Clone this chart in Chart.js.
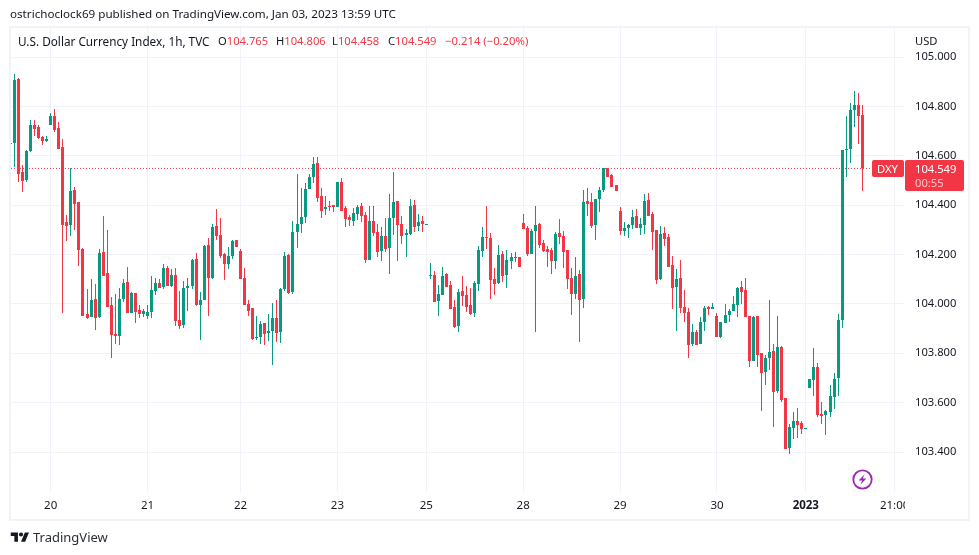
<!DOCTYPE html>
<html><head><meta charset="utf-8">
<script src="https://cdn.jsdelivr.net/npm/chart.js@4"></script>
<style>
html,body{margin:0;padding:0;background:#fff;width:979px;height:555px;overflow:hidden}
#c{position:absolute;left:0;top:0}
.t{position:absolute;white-space:nowrap;font:12px "Noto Sans",sans-serif;color:#131722;line-height:16px}
.n{font-size:11.2px}
.r{color:#f23645}
#frame{position:absolute;left:9px;top:26px;width:957px;height:491px;border:2px solid #f0f3fa}
.badge{position:absolute;background:#f23645;border-radius:2px}
</style></head><body>
<canvas id="c" width="979" height="555"></canvas>
<div id="frame"></div>
<div class="t" style="left:10px;top:6px;font-size:11.65px">ostrichoclock69 published on TradingView.com, Jan 03, 2023 13:59 UTC</div>
<div class="t" style="left:18px;top:33px;font-size:11.75px">U.S. Dollar Currency Index, 1h, TVC</div>
<div class="t n" style="left:218px;top:33px">O<span class="r">104.765</span></div>
<div class="t n" style="left:276px;top:33px">H<span class="r">104.806</span></div>
<div class="t n" style="left:332px;top:33px">L<span class="r">104.458</span></div>
<div class="t n" style="left:388px;top:33px">C<span class="r">104.549</span></div>
<div class="t r" style="left:445px;top:33px;font-size:11.3px">−0.214 (−0.20%)</div>
<div class="t n" style="left:915px;top:33px">USD</div>
<div class="badge" style="left:872px;top:160px;width:32px;height:17px"></div>
<div class="t n" style="left:877px;top:161px;color:#fff">DXY</div>
<div class="badge" style="left:905px;top:160px;width:59px;height:31px"></div>
<div class="t n" style="left:915px;top:161px;color:#fff">104.549</div>
<div class="t n" style="left:915px;top:175px;color:#fbc4ca">00:55</div>
<svg style="position:absolute;left:852px;top:469px" width="21" height="21" viewBox="0 0 21 21"><circle cx="10.5" cy="10.5" r="9.2" fill="none" stroke="#9c27b0" stroke-width="1.8"/><path d="M12.6 5.2 L6.6 11.4 H10.2 L8.4 15.8 L14.4 9.6 H10.8 Z" fill="#9c27b0"/></svg>
<svg style="position:absolute;left:10px;top:532px" width="20" height="10" viewBox="0 3 36 19.5"><path d="M14 22H7V11H0V4h14v18zM28 22h-8l7.5-18h8L28 22z" fill="#131722"/><circle cx="20" cy="8" r="4" fill="#131722"/></svg>
<div class="t" style="left:33px;top:529px;font-size:13px;color:#2a2e39">TradingView</div>
<script>
const opens=[104.651,104.653,104.912,104.535,104.503,104.620,104.726,104.718,104.677,104.661,
104.726,104.762,104.714,104.637,104.333,104.321,104.462,104.414,104.224,103.960,
103.948,104.021,103.948,104.211,104.126,103.997,103.879,103.871,104.021,104.090,
103.964,104.045,103.976,103.960,103.952,103.968,104.053,104.083,104.067,104.144,
104.071,104.119,103.933,103.913,104.063,104.071,104.184,103.994,104.014,104.237,
104.107,104.314,104.281,104.204,104.160,104.196,104.261,104.216,104.107,103.998,
103.982,103.860,103.864,103.921,103.884,103.892,103.941,103.888,104.059,104.200,
104.050,104.293,104.322,104.354,104.464,104.516,104.569,104.439,104.383,104.395,
104.399,104.391,104.496,104.387,104.354,104.338,104.366,104.395,104.362,104.180,
104.338,104.293,104.216,104.277,104.225,104.350,104.419,104.322,104.281,104.285,
104.399,104.314,104.334,104.323,104.115,104.119,104.010,104.038,104.123,104.075,
103.986,103.909,104.053,104.037,103.996,103.964,104.081,104.215,104.272,104.268,
104.102,104.085,104.203,104.118,104.174,104.187,104.191,104.328,104.308,104.203,
104.296,104.324,104.247,104.223,104.219,104.174,104.288,104.276,104.219,104.106,
104.041,104.122,104.021,104.417,104.413,104.320,104.426,104.462,104.551,104.523,
104.482,104.377,104.296,104.309,104.321,104.357,104.309,104.321,104.422,104.365,
104.300,104.102,104.288,104.272,104.159,104.070,104.106,103.989,103.968,103.839,
103.887,103.839,103.928,103.989,103.981,103.952,103.867,103.924,103.956,103.972,
103.997,104.070,104.057,103.952,103.770,103.952,103.802,103.725,103.781,103.809,
103.647,103.826,103.619,103.417,103.498,103.526,103.518,103.496,103.660,103.692,
103.745,103.554,103.550,103.562,103.623,103.700,103.935,104.623,104.628,104.785,104.806,104.765];
const closes=[104.653,104.908,104.527,104.499,104.620,104.726,104.710,104.673,104.661,104.669,
104.762,104.705,104.629,104.321,104.317,104.458,104.406,104.219,103.952,103.944,
104.017,103.944,104.207,104.114,103.989,103.875,103.871,104.021,104.086,103.964,
104.045,103.968,103.960,103.972,103.968,104.057,104.086,104.063,104.144,104.071,
104.119,103.929,103.909,104.063,104.071,104.180,103.994,104.014,104.233,104.107,
104.310,104.277,104.196,104.160,104.196,104.257,104.229,104.099,103.994,103.973,
103.856,103.868,103.917,103.880,103.892,103.941,103.884,104.059,104.196,104.046,
104.293,104.322,104.354,104.464,104.516,104.565,104.431,104.378,104.391,104.391,
104.391,104.496,104.378,104.346,104.342,104.370,104.391,104.358,104.176,104.334,
104.289,104.212,104.277,104.221,104.350,104.415,104.318,104.277,104.289,104.395,
104.310,104.330,104.322,104.324,104.119,104.006,104.042,104.115,104.067,103.978,
103.905,104.050,104.033,103.988,103.960,104.085,104.219,104.272,104.268,104.098,
104.081,104.199,104.114,104.179,104.191,104.191,104.150,104.304,104.203,104.296,
104.320,104.239,104.215,104.211,104.174,104.284,104.272,104.211,104.102,104.041,
104.114,104.017,104.413,104.405,104.316,104.426,104.462,104.551,104.515,104.474,
104.458,104.296,104.309,104.321,104.353,104.309,104.325,104.418,104.357,104.292,
104.098,104.284,104.264,104.151,104.066,104.102,103.985,103.964,103.835,103.887,
103.835,103.928,103.985,103.981,103.989,103.867,103.928,103.956,103.972,104.001,
104.066,104.049,103.948,103.770,103.948,103.794,103.721,103.782,103.805,103.643,
103.826,103.611,103.413,103.502,103.526,103.510,103.494,103.497,103.696,103.745,
103.550,103.546,103.566,103.627,103.696,103.935,104.623,104.628,104.785,104.806,104.761,104.549];
const highs=[104.681,104.932,104.916,104.562,104.624,104.746,104.746,104.726,104.681,104.681,
104.774,104.791,104.738,104.669,104.361,104.550,104.475,104.414,104.228,104.062,
104.102,104.082,104.224,104.357,104.300,104.029,104.041,104.066,104.102,104.151,
104.049,104.045,103.997,103.981,103.997,104.114,104.106,104.103,104.160,104.152,
104.140,104.144,104.054,104.091,104.107,104.184,104.208,104.050,104.237,104.269,
104.322,104.383,104.350,104.208,104.229,104.261,104.261,104.221,104.144,104.014,
103.982,103.953,103.929,103.921,103.961,104.002,104.014,104.063,104.212,104.204,
104.338,104.528,104.468,104.492,104.528,104.597,104.597,104.468,104.439,104.419,
104.399,104.496,104.512,104.395,104.362,104.387,104.399,104.407,104.374,104.395,
104.395,104.322,104.310,104.350,104.447,104.536,104.419,104.358,104.302,104.427,
104.423,104.366,104.358,104.324,104.164,104.135,104.075,104.148,104.127,104.091,
104.014,104.059,104.114,104.073,104.065,104.093,104.235,104.312,104.397,104.288,
104.146,104.239,104.215,104.219,104.207,104.211,104.191,104.365,104.316,104.304,
104.397,104.328,104.260,104.235,104.227,104.292,104.345,104.296,104.219,104.146,
104.191,104.138,104.462,104.470,104.450,104.426,104.474,104.551,104.551,104.527,
104.482,104.394,104.333,104.325,104.381,104.386,104.349,104.446,104.450,104.373,
104.300,104.317,104.313,104.284,104.195,104.143,104.179,104.057,103.985,103.920,
103.895,103.948,103.993,103.993,104.005,103.964,103.928,104.001,103.981,104.033,
104.070,104.094,104.106,103.952,103.952,103.952,103.802,103.794,104.016,103.838,
103.951,103.830,103.619,103.514,103.562,103.579,103.526,103.497,103.696,103.822,
103.761,103.603,103.570,103.672,103.720,103.959,104.623,104.761,104.814,104.862,104.854,104.806];
const lows=[104.570,104.553,104.495,104.454,104.495,104.616,104.681,104.669,104.645,104.657,
104.726,104.697,104.629,103.964,104.256,104.276,104.300,104.155,103.952,103.940,
103.948,103.895,103.944,104.114,103.989,103.782,103.839,103.835,104.009,103.964,
103.964,103.924,103.944,103.948,103.940,103.944,104.037,104.063,104.059,104.071,
104.067,103.909,103.897,103.901,103.973,104.059,103.990,103.852,104.014,103.953,
104.103,104.261,104.188,104.095,104.140,104.184,104.229,104.099,103.994,103.953,
103.852,103.852,103.836,103.832,103.848,103.751,103.844,103.840,104.054,104.042,
104.042,104.225,104.289,104.326,104.464,104.492,104.411,104.350,104.362,104.378,
104.374,104.391,104.378,104.310,104.314,104.314,104.342,104.330,104.164,104.180,
104.277,104.192,104.172,104.212,104.123,104.281,104.172,104.241,104.192,104.281,
104.293,104.297,104.293,104.323,104.103,104.006,103.953,104.038,104.067,103.978,
103.901,103.888,103.992,103.968,103.956,103.948,104.053,104.191,104.223,104.021,
104.037,104.081,104.089,104.065,104.142,104.170,104.150,104.304,104.195,104.203,
103.887,104.227,104.211,104.150,104.122,104.142,104.243,104.146,104.061,103.956,
104.021,103.846,103.984,104.357,104.308,104.260,104.373,104.454,104.515,104.474,
104.458,104.280,104.276,104.268,104.305,104.309,104.280,104.284,104.357,104.219,
104.082,104.098,104.236,104.151,103.981,103.891,103.964,103.928,103.782,103.831,
103.835,103.839,103.891,103.956,103.981,103.867,103.863,103.924,103.928,103.972,
103.948,104.001,103.948,103.746,103.770,103.746,103.567,103.673,103.732,103.502,
103.639,103.603,103.413,103.392,103.453,103.457,103.473,103.496,103.660,103.627,
103.542,103.514,103.469,103.542,103.575,103.627,103.903,104.514,104.571,104.717,104.648,104.458];
const priceTicks=[103.4,103.6,103.8,104.0,104.2,104.4,104.6,104.8,105.0];
const timeTickBars=[10,34,57,81,103,127,151,175,197,219];
const timeTickLabels=["20","21","22","23","25","28","29","30","2023","21:00"];
const lastClose=closes[closes.length-1];
const UP="#089981",DOWN="#f23645",GRID="#f0f3fa",TEXT="#131722";
const FONT='"Noto Sans",sans-serif';
const barColor=i=>closes[i]>=opens[i]?UP:DOWN;
const colors=opens.map((_,i)=>barColor(i));
const wickColors=colors.map((c,i)=>i===0?"rgba(8,153,129,.55)":c);

const snap={id:"snap",afterDatasetsUpdate(chart){
  chart.data.datasets.forEach((d,k)=>{
    if(d.type!=="bar")return;
    chart.getDatasetMeta(k).data.forEach(el=>{
      el.x=Math.floor(el.x)+.5;
      el.y=Math.round(el.y);
      el.base=Math.round(el.base);
      if(el.base-el.y<1)el.base=el.y+1;
    });
  });
}};
const clipLabel={id:"clipLabel",afterDraw(chart){
  const a=chart.chartArea,c=chart.ctx;
  c.save();c.fillStyle="#fff";c.fillRect(a.right,a.bottom+1,62,26);c.restore();
}};
new Chart(document.getElementById("c"),{
  data:{datasets:[
    {type:"bar",data:opens.map((_,i)=>({x:i,y:[lows[i],highs[i]]})),backgroundColor:wickColors,barThickness:1,grouped:false,borderWidth:0,inflateAmount:0,clip:4,order:2},
    {type:"bar",data:opens.map((_,i)=>({x:i,y:[Math.min(opens[i],closes[i]),Math.max(opens[i],closes[i])]})),backgroundColor:colors,barThickness:3,grouped:false,borderWidth:0,inflateAmount:0,clip:1,order:1},
    {type:"line",data:[{x:0.17,y:lastClose},{x:221.57,y:lastClose}],borderColor:DOWN,borderWidth:1,borderDash:[1,2],pointRadius:0,order:3}
  ]},
  options:{
    responsive:false,animation:false,devicePixelRatio:1,
    layout:{padding:{left:11,top:28,right:11,bottom:35}},
    plugins:{legend:{display:false},tooltip:{enabled:false},title:{display:false}},
    events:[],
    scales:{
      x:{type:"linear",offset:false,min:0.17,max:221.57,
        grid:{offset:false,color:GRID,lineWidth:1,drawTicks:false},border:{display:false},
        afterFit(s){s.height=28},
        afterBuildTicks(s){s.ticks=timeTickBars.map(v=>({value:v}))},
        ticks:{autoSkip:false,maxRotation:0,padding:7,color:TEXT,
          callback:v=>timeTickLabels[timeTickBars.indexOf(v)],
          font:c=>({family:FONT,size:11.5,weight:c.tick&&c.tick.value===197?"700":"400"})}},
      y:{type:"linear",position:"right",min:103.238,max:105.118,
        grid:{color:GRID,lineWidth:1,drawTicks:false},border:{display:false},
        afterFit(s){s.width=63},
        afterBuildTicks(s){s.ticks=priceTicks.map(v=>({value:v}))},
        ticks:{padding:10,color:TEXT,callback:v=>v.toFixed(3),font:{family:FONT,size:11.2}}}
    }
  },
  plugins:[snap,clipLabel]
});
</script>
</body></html>
